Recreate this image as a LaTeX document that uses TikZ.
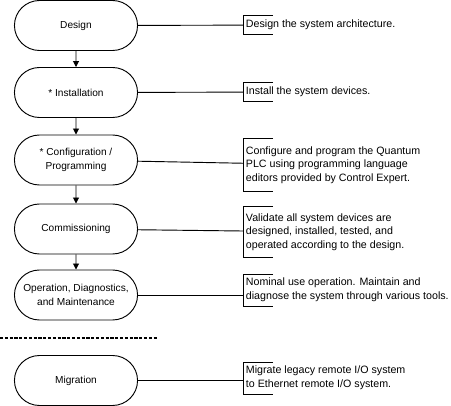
\documentclass[tikz,border=0pt]{standalone}
\usepackage{fontspec}
\setmainfont{Liberation Sans}
\usetikzlibrary{shapes.misc,arrows.meta}

\tikzset{
  stage/.style={draw, rounded rectangle, line width=0.7pt, minimum width=99pt, minimum height=37.5pt,
    align=center, font=\fontsize{7.6}{10.5}\selectfont},
  note/.style={anchor=west, align=left, inner xsep=2pt, inner ysep=3pt,
    font=\fontsize{8}{10.2}\selectfont},
  step arrow/.style={line width=0.7pt, -{Triangle[length=4.5pt,width=4.5pt]}},
}

\begin{document}
\begin{tikzpicture}[x=0.75pt, y=-0.75pt]
\path[use as bounding box] (0,0) rectangle (451,406);

\node[stage] (1s) at (76,25.5) {Design};
\node[stage] (2s) at (76,92.5) {* Installation};
\node[stage] (3s) at (76,160) {* Configuration /\\Programming};
\node[stage] (4s) at (76,229) {Commissioning};
\node[stage] (5s) at (76,295) {Operation, Diagnostics,\\and Maintenance};
\node[stage] (6s) at (76,380.5) {Migration};

\path[draw,step arrow] (1s) -- (2s);
\path[draw,step arrow] (2s) -- (3s);
\path[draw,step arrow] (3s) -- (4s);
\path[draw,step arrow] (4s) -- (5s);

\draw[line width=1pt, dash pattern=on 2.4pt off 1.2pt] (0,338) -- (158,338);

\node[note] (1n) at (243,25) {Design the system architecture.};
\node[note] (2n) at (243,92) {Install the system devices.};
\node[note, minimum height=39pt] (3n) at (243,165) {Configure and program the Quantum\\PLC using programming language\\editors provided by Control Expert.};
\node[note, minimum height=38pt] (4n) at (243,232) {Validate all system devices are\\designed, installed, tested, and\\operated according to the design.};
\node[note] (5n) at (243,290) {Nominal use operation. Maintain and\\diagnose the system through various tools.};
\node[note] (6n) at (243,378) {Migrate legacy remote I/O system\\to Ethernet remote I/O system.};

% brackets on the notes
\foreach \n in {1n,2n,3n,4n,5n,6n}
  \draw[line width=0.6pt] (\n.north west) ++(22.5pt,0) -- (\n.north west) -- (\n.south west) -- ++(22.5pt,0);

\draw[line width=0.7pt] (1s) -- (1n);
\draw[line width=0.7pt] (2s) -- (2n);
\draw[line width=0.7pt] (3s) -- (3n);
\draw[line width=0.7pt] (4s) -- (4n);
\draw[line width=0.7pt] (5s.east) -- (5s.east -| 5n.west);
\draw[line width=0.7pt] (6s.east) -- (6s.east -| 6n.west);
\end{tikzpicture}
\end{document}
